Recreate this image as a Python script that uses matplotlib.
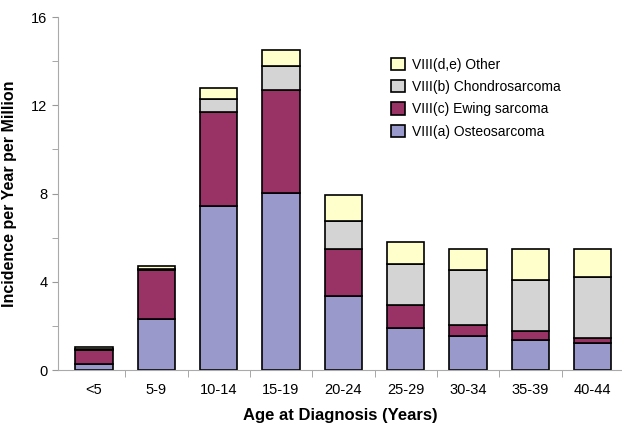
import matplotlib
matplotlib.use("Agg")
import matplotlib.pyplot as plt
import numpy as np

plt.rcParams["font.family"] = ["Liberation Sans", "DejaVu Sans"]

ages = ["<5", "5-9", "10-14", "15-19", "20-24", "25-29", "30-34", "35-39", "40-44"]
osteo = [0.30, 2.31, 7.43, 8.01, 3.37, 1.92, 1.56, 1.35, 1.21]
ewing = [0.63, 2.22, 4.25, 4.68, 2.10, 1.03, 0.48, 0.43, 0.23]
chondro = [0.05, 0.06, 0.59, 1.11, 1.30, 1.84, 2.48, 2.30, 2.79]
other = [0.07, 0.12, 0.50, 0.70, 1.16, 1.03, 0.95, 1.39, 1.24]

series = [("VIII(a) Osteosarcoma", osteo, "#9999cc"),
          ("VIII(c) Ewing sarcoma", ewing, "#993366"),
          ("VIII(b) Chondrosarcoma", chondro, "#d4d4d4"),
          ("VIII(d,e) Other", other, "#ffffcc")]

fig = plt.figure(figsize=(6.22, 4.26), dpi=100)
ax = fig.add_axes([0.093, 0.131, 0.907, 0.829])

x = np.arange(len(ages))
bottom = np.zeros(len(ages))
handles = []
for name, vals, col in series:
    b = ax.bar(x, vals, 0.6, bottom=bottom, color=col, edgecolor="black", lw=1.2, label=name)
    handles.append(b)
    bottom += np.array(vals)

ax.set_xlim(-0.58, 8.47)
ax.set_ylim(0, 16)
ax.set_yticks([0, 4, 8, 12, 16])
ax.set_yticks([2, 6, 10, 14], minor=True)
ax.set_xticks(x)
ax.set_xticklabels(ages, fontsize=10.5)
ax.set_xticks(x[:-1] + 0.5, minor=True)
ax.tick_params(axis="x", which="major", length=0, pad=9)
ax.tick_params(axis="x", which="minor", length=5, color="#999999")
ax.tick_params(axis="y", which="both", length=4, color="#999999", labelsize=10.5)

for s in ["top", "right"]:
    ax.spines[s].set_visible(False)
for s in ["left", "bottom"]:
    ax.spines[s].set_color("#aaaaaa")

ax.set_ylabel("Incidence per Year per Million", fontsize=11.5, fontweight="bold", labelpad=10)
ax.set_xlabel("Age at Diagnosis (Years)", fontsize=12, fontweight="bold", labelpad=8)

ax.legend(handles[::-1], [h.get_label() for h in handles[::-1]], loc="upper left",
          bbox_to_anchor=(0.59, 0.885), frameon=False, fontsize=10,
          borderpad=0, borderaxespad=0,
          handlelength=1.0, handleheight=1.0, handletextpad=0.5, labelspacing=0.6)

fig.savefig("out.png", dpi=100)
